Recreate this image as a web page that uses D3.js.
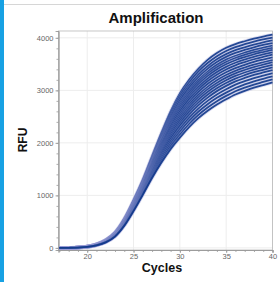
<!DOCTYPE html>
<html>
<head>
<meta charset="utf-8">
<script src="https://cdn.jsdelivr.net/npm/d3@7"></script>
<style>
  body { margin: 0; background: #fff; }
  svg { display: block; font-family: "Liberation Sans", Arial, sans-serif; }
</style>
</head>
<body>
<svg id="chart" width="280" height="282"></svg>
<script>
// cycle numbers shared by every well
var cycles = [17,18,19,20,21,22,23,24,25,26,27,28,29,30,31,32,33,34,35,36,37,38,39,40];

// RFU per well (highest plateau first)
var well01 = [0,3,10,28,72,155,300,560,910,1300,1750,2190,2600,2940,3200,3410,3580,3710,3810,3880,3935,3985,4025,4060];
var well02 = [0,3,10,28,71,152,295,550,898,1283,1725,2155,2555,2890,3145,3355,3520,3650,3750,3822,3878,3928,3970,4005];
var well03 = [0,3,10,27,69,149,290,540,885,1265,1700,2120,2510,2840,3090,3300,3460,3590,3690,3765,3820,3870,3915,3950];
var well04 = [0,3,10,27,68,147,285,534,874,1249,1677,2090,2472,2794,3042,3247,3409,3538,3638,3712,3769,3820,3864,3900];
var well05 = [0,3,9,26,66,144,280,528,862,1233,1653,2059,2434,2747,2993,3194,3357,3485,3585,3659,3718,3770,3812,3851];
var well06 = [0,3,9,26,65,142,277,522,853,1220,1635,2034,2402,2709,2953,3152,3314,3441,3541,3616,3676,3728,3771,3810];
var well07 = [0,3,9,25,64,139,273,515,843,1207,1616,2008,2370,2671,2912,3109,3270,3396,3496,3573,3633,3686,3729,3769];
var well08 = [0,3,9,25,63,137,269,508,833,1193,1595,1980,2334,2629,2867,3062,3222,3347,3447,3525,3586,3639,3683,3724];
var well09 = [0,3,8,24,62,134,264,501,822,1178,1574,1951,2298,2587,2822,3015,3173,3298,3398,3477,3538,3592,3637,3678];
var well10 = [0,3,8,24,61,132,260,494,811,1162,1551,1920,2258,2541,2773,2964,3120,3245,3345,3424,3486,3541,3586,3628];
var well11 = [0,2,8,23,59,129,255,486,799,1146,1527,1888,2218,2495,2723,2912,3066,3191,3291,3371,3434,3489,3535,3578];
var well12 = [0,2,8,23,58,127,251,479,789,1132,1506,1860,2182,2453,2678,2865,3018,3142,3242,3323,3387,3443,3489,3533];
var well13 = [0,2,7,22,57,124,246,472,778,1117,1485,1831,2146,2411,2633,2818,2969,3093,3193,3275,3340,3396,3442,3487];
var well14 = [0,2,7,22,56,121,242,464,767,1101,1462,1800,2107,2365,2584,2766,2916,3039,3139,3223,3288,3345,3392,3437];
var well15 = [0,2,7,21,54,118,237,456,755,1085,1439,1768,2067,2318,2534,2714,2862,2985,3085,3170,3236,3293,3341,3387];
var well16 = [0,2,7,20,53,115,232,447,741,1067,1412,1731,2021,2264,2476,2653,2799,2921,3021,3108,3175,3233,3281,3328];
var well17 = [0,2,7,19,51,112,226,438,727,1048,1385,1694,1974,2209,2417,2592,2736,2857,2957,3045,3113,3172,3220,3268];
var well18 = [0,2,7,19,50,109,221,429,714,1029,1358,1657,1927,2155,2359,2531,2673,2794,2894,2983,3052,3111,3160,3209];
var well19 = [0,2,6,18,48,105,215,420,700,1010,1330,1620,1880,2100,2300,2470,2610,2730,2830,2920,2990,3050,3100,3150];
var wells = [well01, well02, well03, well04, well05, well06, well07, well08, well09, well10,
             well11, well12, well13, well14, well15, well16, well17, well18, well19];

var xTicks = [20,25,30,35,40];
var yTicks = [0,1000,2000,3000,4000];

var svg = d3.select("#chart");

// left accent bar + top rule
svg.append("rect").attr("x",0).attr("y",0).attr("width",4).attr("height",282).attr("fill","#17a1e3");
svg.append("line").attr("x1",4).attr("x2",280).attr("y1",4.5).attr("y2",4.5)
  .attr("stroke","#d6d6d6").attr("stroke-width",1);

var plot = {left:58.5, right:272.5, top:31, bottom:250};

var x = d3.scaleLinear().domain([16.9, 40]).range([plot.left, plot.right]);
var y = d3.scaleLinear().domain([-40, 4130]).range([plot.bottom, plot.top]);

// grid
var g = svg.append("g");
g.selectAll(".vg").data(xTicks).enter().append("line")
  .attr("x1",function(d){return x(d);}).attr("x2",function(d){return x(d);})
  .attr("y1",plot.top).attr("y2",plot.bottom)
  .attr("stroke","#ededed").attr("stroke-width",1);
g.selectAll(".hg").data(yTicks).enter().append("line")
  .attr("x1",plot.left).attr("x2",plot.right)
  .attr("y1",function(d){return y(d);}).attr("y2",function(d){return y(d);})
  .attr("stroke","#ededed").attr("stroke-width",1);

// frame
g.append("rect").attr("x",plot.left).attr("y",plot.top)
  .attr("width",plot.right-plot.left).attr("height",plot.bottom-plot.top)
  .attr("fill","none").attr("stroke","#b8b8b8").attr("stroke-width",0.8);

// axes
var xAxis = d3.axisBottom(x).tickValues(xTicks).tickSize(3).tickPadding(1).tickFormat(d3.format("d"));
var yAxis = d3.axisLeft(y).tickValues(yTicks).tickSize(3).tickPadding(2).tickFormat(d3.format("d"));
var xMinor = d3.axisBottom(x).tickValues(d3.range(17,41)).tickSize(2).tickFormat("");
var yMinor = d3.axisLeft(y).tickValues(d3.range(0,4101,200)).tickSize(2).tickFormat("");

[[xMinor,"translate(0,"+plot.bottom+")"],[xAxis,"translate(0,"+plot.bottom+")"],
 [yMinor,"translate("+plot.left+",0)"],[yAxis,"translate("+plot.left+",0)"]].forEach(function(a){
  var ax = svg.append("g").attr("transform",a[1]).call(a[0]);
  ax.select(".domain").attr("stroke","#999").attr("stroke-width",0.8);
  ax.selectAll(".tick line").attr("stroke","#999").attr("stroke-width",0.8);
  ax.selectAll(".tick text").attr("fill","#666").style("font-size","7.5px");
});

// curves: each well gets a pale halo, then its dark core
var line = d3.line()
  .x(function(d,i){return x(cycles[i]);})
  .y(function(d){return y(d);})
  .curve(d3.curveMonotoneX);

var curves = svg.append("g").selectAll("g").data(wells).enter().append("g");
curves.append("path")
  .attr("d",line).attr("fill","none")
  .attr("stroke","#9a9dd6").attr("stroke-opacity",0.35).attr("stroke-width",3.5);
curves.append("path")
  .attr("d",line).attr("fill","none")
  .attr("stroke","#10378a").attr("stroke-opacity",0.9).attr("stroke-width",1.8);

// titles
svg.append("text").attr("x",156).attr("y",23).attr("text-anchor","middle")
  .style("font-size","15px").style("font-weight","bold").attr("fill","#111").text("Amplification");
svg.append("text").attr("transform","translate(27,140) rotate(-90)").attr("text-anchor","middle")
  .style("font-size","12px").style("font-weight","bold").attr("fill","#111").text("RFU");
svg.append("text").attr("x",162).attr("y",272).attr("text-anchor","middle")
  .style("font-size","12.5px").style("font-weight","bold").attr("fill","#111").text("Cycles");
</script>
</body>
</html>
